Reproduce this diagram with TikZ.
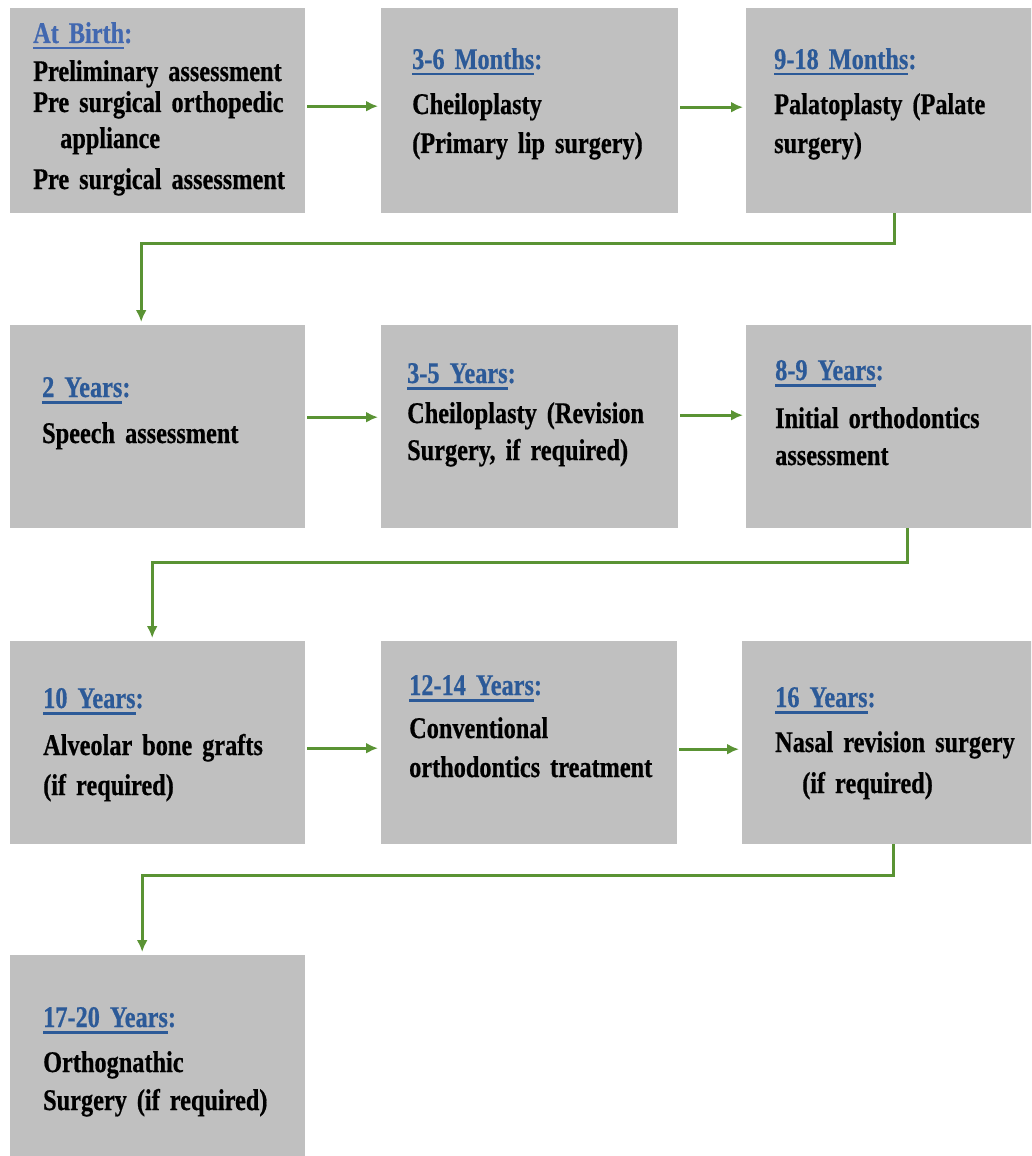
\documentclass[tikz,border=0pt]{standalone}
\usepackage{fontspec}
\setmainfont{Liberation Serif}[FakeStretch=0.81, WordSpace=0.8, BoldFeatures={FakeBold=0.6}]
\usepackage{tikz}
\usetikzlibrary{arrows.meta}

\definecolor{boxgray}{HTML}{C0C0C0}
\definecolor{stageblue}{HTML}{2C5A98}
\definecolor{birthblue}{HTML}{4268B0}
\definecolor{flowgreen}{HTML}{5A9334}

\newcommand{\headrule}[1]{\setbox0\hbox{#1}\rlap{\rule[-6.5pt]{\wd0}{2.5pt}}\box0}
\newcommand{\stage}[2][stageblue]{{\color{#1}\headrule{#2}:}}

\tikzset{
	stagebox/.style={fill=boxgray, minimum width=295pt, minimum height=203pt, inner sep=0pt, anchor=north west},
	stagetext/.style={anchor=base west, inner sep=0pt, text width=285pt, align=left, font=\bfseries\fontsize{30}{34}\selectfont},
	flow/.style={draw=flowgreen, line width=3pt, -{Latex[length=12pt,width=11pt]}, shorten >=3pt, shorten <=2pt},
}

\begin{document}
\begin{tikzpicture}[x=1pt, y=-1pt]

		\useasboundingbox (0,0) rectangle (1031,1156);
		\clip (0,0) rectangle (1031,1156);

		% boxes
		\node[stagebox, minimum height=205pt] (b11) at (10,8) {};
		\node[stagebox, minimum width=297pt, minimum height=205pt] (b12) at (381,8) {};
		\node[stagebox, minimum height=205pt] (b13) at (746,8) {};

		\node[stagebox] (b21) at (10,325) {};
		\node[stagebox, minimum width=297pt] (b22) at (381,325) {};
		\node[stagebox] (b23) at (746,325) {};

		\node[stagebox] (b31) at (10,641) {};
		\node[stagebox, minimum width=296pt] (b32) at (381,641) {};
		\node[stagebox] (b33) at (742,641) {};

		\node[stagebox, minimum height=205pt] (b41) at (10,955) {};

		% texts
		\node[stagetext] (t11) at (33,43) {\stage[birthblue]{At Birth}\\[4pt]
			Preliminary assessment\\[-3pt]
			Pre surgical orthopedic\\[2pt]
			\hspace*{27pt}appliance\\[7pt]
			Pre surgical assessment};
		\node[stagetext] (t12) at (412,69) {\stage{3-6 Months}\\[11pt]
			Cheiloplasty\\[5pt]
			(Primary lip surgery)};
		\node[stagetext] (t13) at (774,69) {\stage{9-18 Months}\\[11pt]
			Palatoplasty (Palate\\[5pt]
			surgery)};

		\node[stagetext] (t21) at (42,397) {\stage{2 Years}\\[12pt]
			Speech assessment};
		\node[stagetext] (t22) at (407,383) {\stage{3-5 Years}\\[6pt]
			Cheiloplasty (Revision\\[3pt]
			Surgery, if required)};
		\node[stagetext] (t23) at (775,380) {\stage{8-9 Years}\\[14pt]
			\makebox[228pt][s]{Initial orthodontics}\\[3pt]
			assessment};

		\node[stagetext] (t31) at (43,708) {\stage{10 Years}\\[13pt]
			Alveolar bone grafts\\[6pt]
			(if required)};
		\node[stagetext] (t32) at (409,695) {\stage{12-14 Years}\\[9pt]
			Conventional\\[5pt]
			orthodontics treatment};
		\node[stagetext] (t33) at (775,707) {\stage{16 Years}\\[11pt]
			Nasal revision surgery\\[7pt]
			\hspace*{27pt}(if required)};

		\node[stagetext] (t41) at (43,1027) {\stage{17-20 Years}\\[11pt]
			Orthognathic\\[4pt]
			Surgery (if required)};

		% arrows
		\draw[flow] ([yshift=4.5]b11.east) -- ([yshift=4.5]b12.west);
		\draw[flow] ([yshift=3.5]b12.east) -- ([yshift=3.5]b13.west);
		\draw[flow] ([yshift=9.5]b21.east) -- ([yshift=9.5]b22.west);
		\draw[flow] ([yshift=11.5]b22.east) -- ([yshift=11.5]b23.west);
		\draw[flow] ([yshift=-5.5]b31.east) -- ([yshift=-5.5]b32.west);
		\draw[flow] ([yshift=-6.5]b32.east) -- ([yshift=-6.5]b33.west);

		\draw[flow, shorten <=0pt] ([xshift=0.5]b13.south) -- ++(0,30) -| ([xshift=-16.5]b21.north);
		\draw[flow, shorten <=0pt] ([xshift=13.5]b23.south) -- ++(0,34) -| ([xshift=-5.5]b31.north);
		\draw[flow, shorten <=0pt] ([xshift=3.5]b33.south) -- ++(0,31) -| ([xshift=-15.5]b41.north);

\end{tikzpicture}
\end{document}
